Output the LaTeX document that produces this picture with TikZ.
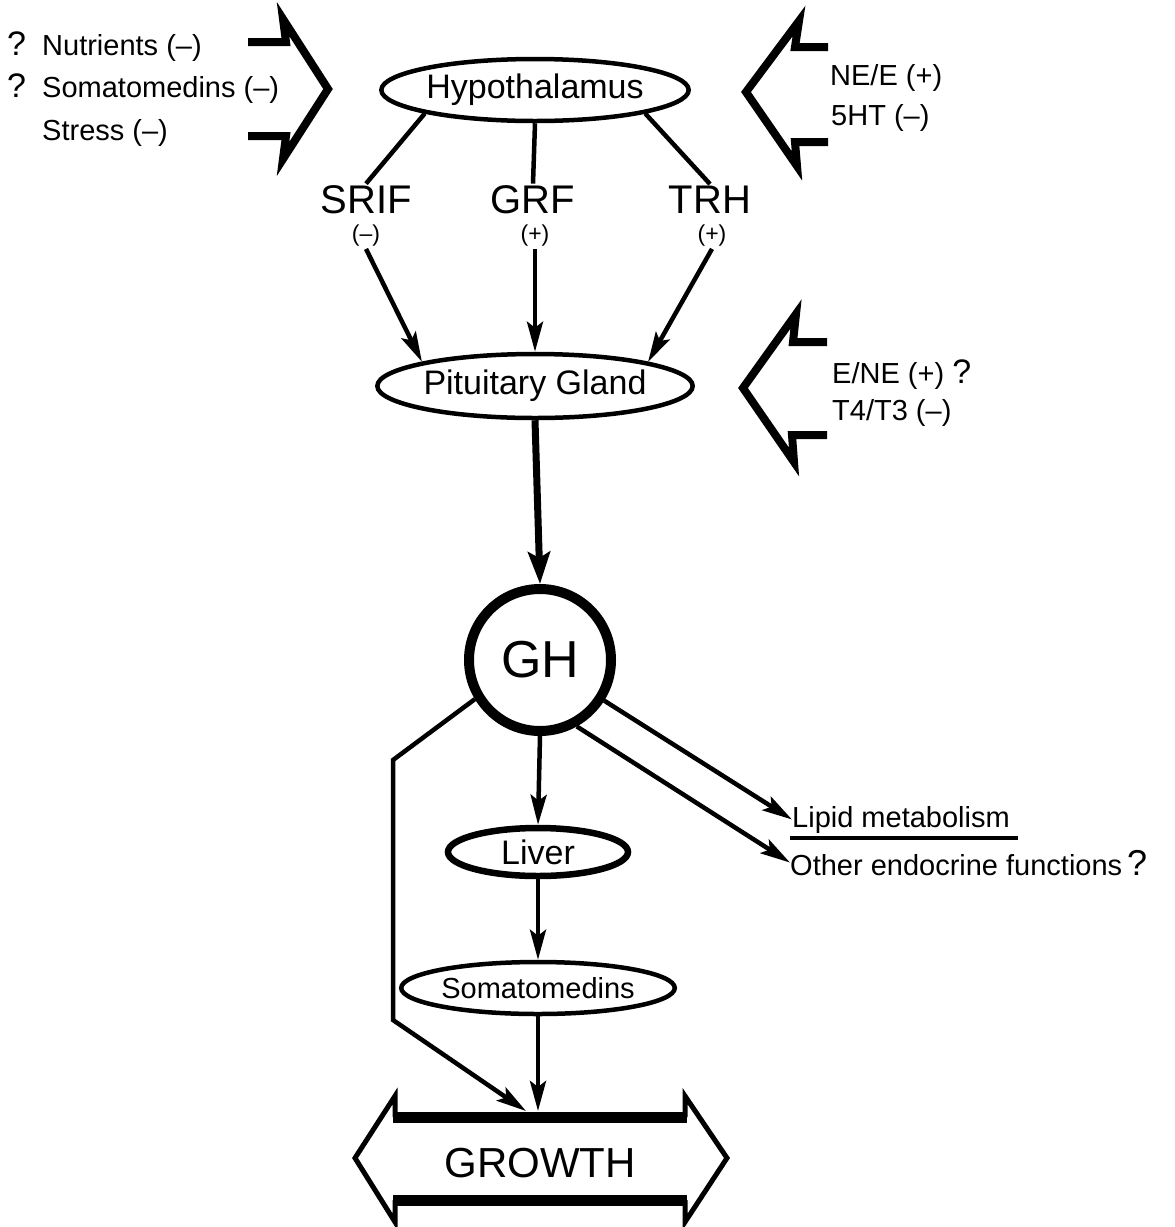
\documentclass[tikz,border=0pt]{standalone}
\usepackage{fontspec}
\setmainfont{Liberation Sans}
\usepackage{tikz}
\usetikzlibrary{shapes.geometric,arrows.meta}
\tikzstyle{organ} = [draw=black, ellipse, line width=4.5pt, inner sep=0pt, font={\fontsize{34}{40}\selectfont}]
\tikzstyle{factor} = [inner sep=0pt, anchor=base west, font={\fontsize{29}{34}\selectfont}]
\tikzstyle{releaser} = [inner sep=2pt, font={\fontsize{40}{46}\selectfont}]
\tikzstyle{sign} = [inner sep=2pt, font={\fontsize{23}{26}\selectfont}]
\tikzstyle{link} = [line width=4.5pt]
\tikzstyle{chevron} = [line width=8pt, line join=miter]
\tikzset{>={Stealth[length=30pt,width=16pt,inset=6pt]}}
\newcommand{\bigq}{{\fontsize{34}{38}\selectfont ?}}

\begin{document}
\begin{tikzpicture}[x=1pt,y=-1pt]
  \useasboundingbox (0,0) rectangle (1175,1227);
  \node[organ,minimum width=300pt,minimum height=62pt](hyp) at (535,90){Hypothalamus};
  \node[releaser](srif) at (366,200){SRIF};
  \node[releaser](grf) at (533,200){GRF};
  \node[releaser](trh) at (710,200){TRH};
  \node[sign](srifsign) at (366,236){(--)};
  \node[sign](grfsign) at (535,236){(+)};
  \node[sign](trhsign) at (712,236){(+)};
  \node[organ,minimum width=284pt,minimum height=64pt](pit) at (535,386){Pituitary Gland};
  \node[draw,circle,line width=10pt,minimum size=142pt,inner sep=0pt,font={\fontsize{52}{58}\selectfont}](gh) at (540,660){GH};
  \node[organ,line width=6.5pt,minimum width=180pt,minimum height=48pt](liver) at (538,852){Liver};
  \node[organ,font={\fontsize{29}{34}\selectfont},minimum width=230pt,minimum height=52pt](soma) at (538,988){Somatomedins};
  \node[font={\fontsize{42}{48}\selectfont}](growth) at (540,1163){GROWTH};
  \node[factor](q1) at (7,55){\bigq};
  \node[factor](nutr) at (42,55){Nutrients (--)};
  \node[factor](q2) at (7,97){\bigq};
  \node[factor](somafb) at (42,97){Somatomedins (--)};
  \node[factor](stress) at (42,140){Stress (--)};
  \node[factor](nee) at (830,85){NE/E (+)};
  \node[factor](sht) at (831,125){5HT (--)};
  \node[factor](ene) at (832,383){E/NE (+) \bigq};
  \node[factor](thyr) at (832,420){T4/T3 (--)};
  \node[factor](lipid) at (792,827){Lipid metabolism};
  \node[factor](other) at (790,875){Other endocrine functions\,{\fontsize{36}{40}\selectfont ?}};
  \coordinate (bendtop) at (393,760);
  \coordinate (bendlow) at (393,1020);
  \coordinate (growthleft) at (526,1111);
  \coordinate (growthmid) at (538,1111);
  \draw[link] (hyp.south west) -- (srif.north);
  \draw[link] (hyp.south) -- (grf.north);
  \draw[link] (hyp.south east) -- (trh.north);
  \draw[link,->] (srifsign.south) -- (pit.north west);
  \draw[link,->] (grfsign.south) -- (pit.north);
  \draw[link,->] (trhsign.south) -- (pit.north east);
  \draw[line width=7pt,-{Stealth[length=32pt,width=22pt,inset=6pt]}] (pit.south) -- (gh.north);
  \draw[link,->] (gh) -- (lipid.west);
  \draw[link,->] (gh.-61) -- (other.west);
  \draw[link,->] (gh.south) -- (liver.north);
  \draw[link,->] (liver.south) -- (soma.north);
  \draw[link,->] (soma.south) -- (growthmid);
  \draw[link,->] (gh.211) -- (bendtop) -- (bendlow) -- (growthleft);
  \draw[line width=3.5pt] ([xshift=-2pt,yshift=-11pt]lipid.base west) -- ([xshift=8pt,yshift=-11pt]lipid.base east);
  \draw[chevron] (248,42) -- (286,42) -- (283,19) -- (328,89) -- (283,159) -- (286,136) -- (248,136);
  \draw[chevron] (828,47) -- (795,47) -- (799,21) -- (746,92) -- (797,166) -- (795,142) -- (828,142);
  \draw[chevron] (827,342) -- (793,342) -- (796,314) -- (743,388) -- (794,462) -- (792,435) -- (827,435);
  \draw[line width=5pt,line join=miter] (395,1117) -- (395,1096) -- (355,1158) -- (395,1222) -- (395,1200);
  \draw[line width=5pt,line join=miter] (685,1117) -- (685,1096) -- (727,1158) -- (685,1222) -- (685,1200);
  \draw[line width=11pt] (393,1117) -- (687,1117);
  \draw[line width=11pt] (393,1200) -- (687,1200);
\end{tikzpicture}
\end{document}
